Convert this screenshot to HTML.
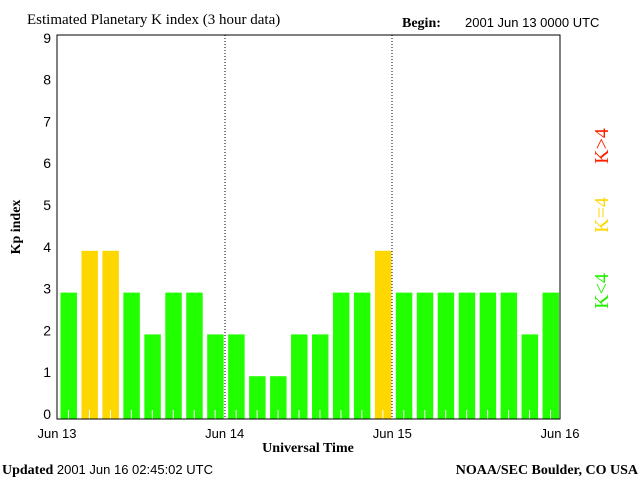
<!DOCTYPE html>
<html><head><meta charset="utf-8"><style>
body{margin:0;background:#fff;}
svg{display:block;font-family:"Liberation Serif",serif;}
.s{font-family:"Liberation Sans",sans-serif;}
</style></head><body>
<svg id="c" width="640" height="480">
<text x="27" y="24" font-size="15">Estimated Planetary K index (3 hour data)</text>
<text x="402" y="27" font-size="14" font-weight="bold">Begin:</text>
<text class="s" x="465" y="27" font-size="13">2001 Jun 13 0000 UTC</text>
<g id="bars"></g>
<rect x="57" y="35" width="503" height="384" fill="none" stroke="#000"/>
<line x1="225" y1="35" x2="225" y2="419" stroke="#000" stroke-dasharray="1,2"/>
<line x1="392" y1="35" x2="392" y2="419" stroke="#000" stroke-dasharray="1,2"/>
<g id="yt" class="s" font-size="14"></g>
<g id="xt" class="s" font-size="13"></g>
<text x="20" y="227" font-size="14" font-weight="bold" transform="rotate(-90 20 227)" text-anchor="middle">Kp index</text>
<text x="308" y="452" font-size="14" font-weight="bold" text-anchor="middle">Universal Time</text>
<text x="2" y="474" font-size="14"><tspan font-weight="bold">Updated</tspan> <tspan class="s" font-size="13">2001 Jun 16 02:45:02 UTC</tspan></text>
<text x="638" y="474" font-size="14" font-weight="bold" text-anchor="end">NOAA/SEC Boulder, CO USA</text>
<text x="608" y="291" font-size="20" fill="#22ee00" transform="rotate(-90 608 291)" text-anchor="middle">K&lt;4</text>
<text x="608" y="215" font-size="20" fill="#ffd700" transform="rotate(-90 608 215)" text-anchor="middle">K=4</text>
<text x="608" y="146" font-size="20" fill="#ff2000" transform="rotate(-90 608 146)" text-anchor="middle">K&gt;4</text>
</svg>
<script>
const kpValues=[3,4,4,3,2,3,3,2, 2,1,1,2,2,3,3,4, 3,3,3,3,3,3,2,3];
const yTicks=[0,1,2,3,4,5,6,7,8,9];
const xLabels=["Jun 13","Jun 14","Jun 15","Jun 16"];
const NS="http://www.w3.org/2000/svg";
const X0=57,W=503,Y0=418,U=41.8;
const y=v=>Y0-U*v;
const bw=W/kpValues.length;
const x=i=>X0+i*bw;
const g=document.getElementById('bars');
kpValues.forEach((v,i)=>{
 const r=document.createElementNS(NS,'rect');
 r.setAttribute('x',x(i)+3.5);r.setAttribute('width',bw-4.5);
 r.setAttribute('y',y(v));r.setAttribute('height',Y0+1-y(v));
 r.setAttribute('fill',v>4?'#ff2000':v==4?'#ffd700':'#22ff00');
 
 
 g.appendChild(r);
 const t=document.createElementNS(NS,'line');
 t.setAttribute('x1',x(i)+bw/2+1);t.setAttribute('x2',x(i)+bw/2+1);
 t.setAttribute('y1',410);t.setAttribute('y2',419);t.setAttribute('stroke','#fff');
 
 
 g.appendChild(t);
});
const yt=document.getElementById('yt');
yTicks.forEach(v=>{
 const t=document.createElementNS(NS,'text');
 t.setAttribute('x',51);t.setAttribute('y',y(v)+1);t.setAttribute('text-anchor','end');
 t.textContent=v;
 
 
 yt.appendChild(t);
});
const xt=document.getElementById('xt');
xLabels.forEach((s,i)=>{
 const t=document.createElementNS(NS,'text');
 t.setAttribute('x',X0+i*W/3);t.setAttribute('y',438);t.setAttribute('text-anchor','middle');
 t.textContent=s;
 
 
 xt.appendChild(t);
});
</script>
</body></html>
